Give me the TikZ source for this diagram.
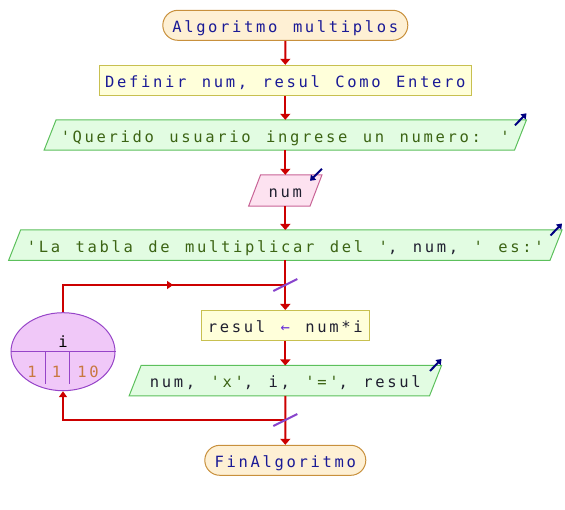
\documentclass[tikz,border=0pt]{standalone}
\usepackage{fontspec}
\usetikzlibrary{arrows.meta,shapes.geometric,shapes.misc,backgrounds,decorations.markings}
\newfontfamily\psefont[LetterSpace=17.2,WordSpace={1.286,0,0}]{DejaVu Sans Mono}
\definecolor{termfill}{HTML}{FEF0D4}
\definecolor{termdraw}{HTML}{C8903C}
\definecolor{procfill}{HTML}{FFFFDA}
\definecolor{procdraw}{HTML}{C8C050}
\definecolor{outfill}{HTML}{E2FCE2}
\definecolor{outdraw}{HTML}{5CC05C}
\definecolor{infill}{HTML}{FDE2F0}
\definecolor{indraw}{HTML}{C86496}
\definecolor{loopfill}{HTML}{F0C8F8}
\definecolor{loopdraw}{HTML}{9644C8}
\definecolor{flowred}{HTML}{CC0000}
\definecolor{slashc}{HTML}{8844CC}
\definecolor{ionavy}{HTML}{000080}
\definecolor{kwblue}{HTML}{1A1A96}
\definecolor{strgreen}{HTML}{3C6414}
\definecolor{numorange}{HTML}{C87840}
\definecolor{darktext}{HTML}{202030}
\begin{document}
\begin{tikzpicture}[x=1pt,y=-1pt,
  txt/.style={font=\psefont\fontsize{15.5}{17}\selectfont, inner sep=0pt},
  boxtxt/.style={txt, text height=14.2pt, text depth=0pt},
  term/.style={boxtxt, rounded rectangle, draw=termdraw, fill=termfill, line width=1pt, text=kwblue, minimum height=30pt},
  proc/.style={boxtxt, rectangle, draw=procdraw, fill=procfill, line width=1pt, minimum height=30pt},
  iobox/.style={boxtxt, rectangle, minimum height=30pt},
  outshape/.style={draw=outdraw, fill=outfill, line width=1pt},
  inshape/.style={draw=indraw, fill=infill, line width=1pt},
  flow/.style={draw=flowred, line width=2pt},
  flowarrow/.style={flow, -{Triangle[width=10pt,length=6pt]}},
  ioarrow/.style={draw=ionavy, line width=2pt, -{Triangle[width=7pt,length=5pt]}},
  slashline/.style={draw=slashc, line width=2pt},
  looplines/.style={draw=loopdraw, line width=1pt},
  midarrow/.style={postaction={decorate}, decoration={markings, mark=at position #1 with {\arrow{Triangle[width=8pt,length=6pt]}}}},
]
\useasboundingbox (0,0) rectangle (565,510);
\def\axis{285.3}
% nodes
\node[term, minimum width=245pt] (start) at (\axis,25.3) {Algoritmo multiplos};
\node[proc, minimum width=372pt, text=kwblue] (def) at (\axis,80.3) {Definir num, resul Como Entero};
\node[iobox, minimum width=470pt, text=strgreen] (out1) at (\axis,135) {'Querido usuario ingrese un numero: '};
\node[iobox, minimum width=61pt, minimum height=31pt, text=darktext] (in1) at (\axis,190.5) {num};
\node[iobox, minimum width=541pt, text=strgreen] (out2) at (\axis,245.2) {'La tabla de multiplicar del '\textcolor{darktext}{, num, }' es:'};
\node[proc, minimum width=168pt, text=darktext] (res) at (\axis,325.5) {resul \textcolor{loopdraw!70!blue}{←} num*i};
\node[iobox, minimum width=300pt, text=darktext] (out3) at (\axis,380.7) {num, \textcolor{strgreen}{'x'}, i, \textcolor{strgreen}{'='}, resul};
\node[term, minimum width=161pt] (fin) at (\axis,460.3) {FinAlgoritmo};
% loop ellipse
\node[ellipse, draw=loopdraw, fill=loopfill, line width=1pt, minimum width=104pt, minimum height=78pt, inner sep=0pt] (loop) at (63,351.7) {};
\draw[looplines] (loop.west) -- (loop.east);
\coordinate (d1) at (45.7,351.7);
\coordinate (d2) at (69.3,351.7);
\draw[looplines] (d1) -- ++(0,32.5);
\draw[looplines] (d2) -- ++(0,32.5);
\node[txt, text=black] (lvar) at (63,341.7) {i};
\node[txt, text=numorange] (lini) at (32,371.7) {1};
\node[txt, text=numorange] (lstep) at (56.5,371.7) {1};
\node[txt, text=numorange] (lend) at (88,371.7) {10};
% parallelogram shapes
\begin{scope}[on background layer]
\foreach \n/\s in {out1/outshape, out2/outshape, out3/outshape, in1/inshape}{
  \draw[\s] ([xshift=-6pt]\n.south west) -- ([xshift=6pt]\n.north west) -- ([xshift=6pt]\n.north east) -- ([xshift=-6pt]\n.south east) -- cycle;
}
\end{scope}
% junctions
\coordinate (j1) at (\axis,285);
\coordinate (j2) at (\axis,420);
% flow
\draw[flowarrow] (start) -- (def);
\draw[flowarrow] (def) -- (out1);
\draw[flowarrow] (out1) -- (in1);
\draw[flowarrow] (in1) -- (out2);
\draw[flowarrow] (out2) -- (res);
\draw[flowarrow] (res) -- (out3);
\draw[flowarrow] (out3) -- (fin);
\draw[flow, midarrow=0.55] (loop.north) |- (j1);
\draw[flow, -{Triangle[width=8pt,length=6pt]}] (j2) -| (loop.south);
\draw[slashline] ([shift={(-12,6)}]j1) -- ([shift={(12,-6)}]j1);
\draw[slashline] ([shift={(-12,6)}]j2) -- ([shift={(12,-6)}]j2);
% io arrows
\draw[ioarrow] ([shift={(-5.5,5.5)}]out1.north east) -- ([shift={(6,-6.5)}]out1.north east);
\draw[ioarrow] ([shift={(-5.5,5.5)}]out2.north east) -- ([shift={(6,-6.5)}]out2.north east);
\draw[ioarrow] ([shift={(-5.5,5.5)}]out3.north east) -- ([shift={(6,-6.5)}]out3.north east);
\draw[ioarrow] ([shift={(6,-6)}]in1.north east) -- ([shift={(-6,6)}]in1.north east);
\end{tikzpicture}
\end{document}
